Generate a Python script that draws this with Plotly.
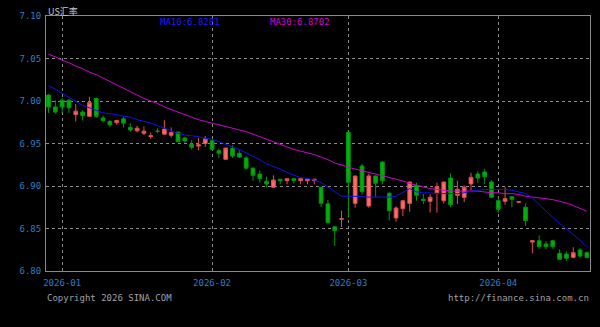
import pandas as pd
import plotly.graph_objects as go

# trading days (weekdays) shown on the chart
dates = [d.strftime("%Y-%m-%d") for d in pd.bdate_range("2025-12-30", periods=80)]

open_ = [7.007, 6.993, 7.001, 7.001, 6.984, 6.987, 6.982, 7.003, 6.980, 6.976,
         6.9745, 6.979, 6.969, 6.965, 6.962, 6.958, 6.9645, 6.961, 6.9597, 6.9635,
         6.9565, 6.949, 6.947, 6.950, 6.9533, 6.9415, 6.9314, 6.944, 6.9385, 6.933,
         6.921, 6.914, 6.9055, 6.8985, 6.908, 6.9063, 6.9086, 6.9063, 6.9063, 6.9063,
         6.8985, 6.879, 6.852, 6.8608, 6.9632, 6.8796, 6.9235, 6.8765, 6.9118, 6.9282,
         6.8914, 6.8624, 6.8733, 6.8796, 6.9008, 6.8844, 6.882, 6.8921, 6.8827, 6.9094,
         6.8891, 6.8867, 6.9024, 6.9141, 6.9165, 6.9047, 6.8827, 6.882, 6.8874, 6.881,
         6.875, 6.834, 6.8356, 6.8318, 6.8356, 6.8208, 6.820, 6.8161, 6.8247, 6.8215]
high = [7.008, 7.001, 7.003, 7.002, 6.9965, 6.989, 7.005, 7.004, 6.983, 6.9775,
        6.978, 6.9815, 6.974, 6.971, 6.970, 6.963, 6.968, 6.9775, 6.969, 6.9637,
        6.958, 6.954, 6.9565, 6.959, 6.955, 6.944, 6.9447, 6.948, 6.942, 6.935,
        6.922, 6.918, 6.911, 6.9125, 6.908, 6.9086, 6.9086, 6.9086, 6.908, 6.908,
        6.8985, 6.8835, 6.852, 6.871, 6.9632, 6.9118, 6.926, 6.914, 6.912, 6.929,
        6.8933, 6.876, 6.883, 6.905, 6.9039, 6.8906, 6.8902, 6.9039, 6.905, 6.915,
        6.9062, 6.9008, 6.9156, 6.9173, 6.9204, 6.907, 6.8867, 6.8985, 6.8874, 6.8816,
        6.8796, 6.8365, 6.842, 6.835, 6.8365, 6.8255, 6.823, 6.828, 6.827, 6.823]
low = [6.986, 6.985, 6.986, 6.986, 6.976, 6.977, 6.9815, 6.980, 6.9745, 6.969,
       6.972, 6.969, 6.9635, 6.963, 6.960, 6.9555, 6.962, 6.9605, 6.957, 6.952,
       6.951, 6.943, 6.942, 6.946, 6.942, 6.933, 6.931, 6.933, 6.933, 6.919,
       6.906, 6.904, 6.8985, 6.8985, 6.902, 6.902, 6.903, 6.902, 6.902, 6.902,
       6.875, 6.856, 6.8294, 6.852, 6.8627, 6.8745, 6.890, 6.8745, 6.8871, 6.902,
       6.8592, 6.858, 6.8647, 6.8698, 6.8827, 6.8788, 6.8686, 6.8686, 6.8796, 6.875,
       6.8788, 6.8812, 6.8945, 6.9032, 6.9024, 6.886, 6.8686, 6.878, 6.875, 6.8796,
       6.853, 6.8208, 6.8262, 6.8255, 6.8262, 6.813, 6.812, 6.815, 6.816, 6.815]
close = [6.993, 6.987, 6.993, 6.992, 6.988, 6.983, 6.998, 6.982, 6.977, 6.972,
         6.977, 6.974, 6.966, 6.968, 6.9645, 6.959, 6.9643, 6.967, 6.9628, 6.952,
         6.953, 6.9455, 6.9485, 6.9555, 6.943, 6.9385, 6.9447, 6.9353, 6.934, 6.921,
         6.9126, 6.9086, 6.9024, 6.907, 6.9063, 6.9086, 6.9063, 6.9086, 6.908, 6.908,
         6.8797, 6.857, 6.8475, 6.8615, 6.9044, 6.9118, 6.8933, 6.9118, 6.9032, 6.9062,
         6.8709, 6.8741, 6.8827, 6.9047, 6.8891, 6.883, 6.8867, 6.8992, 6.9047, 6.878,
         6.8961, 6.8985, 6.9102, 6.9094, 6.9109, 6.8867, 6.8726, 6.8851, 6.8844, 6.8816,
         6.8592, 6.8356, 6.8286, 6.8286, 6.8286, 6.8138, 6.815, 6.8215, 6.8176, 6.816]

ma10 = [7.018, 7.014, 7.009, 7.004, 6.999, 6.995, 6.992, 6.989, 6.986, 6.985,
        6.984, 6.982, 6.981, 6.978, 6.976, 6.974, 6.971, 6.968, 6.965, 6.962,
        6.960, 6.959, 6.958, 6.956, 6.955, 6.952, 6.949, 6.946, 6.943, 6.939,
        6.935, 6.931, 6.926, 6.923, 6.920, 6.916, 6.913, 6.910, 6.909, 6.907,
        6.904, 6.899, 6.894, 6.888, 6.888, 6.888, 6.8875, 6.887, 6.887, 6.887,
        6.887, 6.888, 6.893, 6.897, 6.893, 6.892, 6.892, 6.891, 6.891, 6.8906,
        6.891, 6.892, 6.894, 6.895, 6.896, 6.896, 6.896, 6.896, 6.895, 6.893,
        6.891, 6.886, 6.878, 6.870, 6.863, 6.856, 6.850, 6.843, 6.836, 6.8281]
ma30 = [7.055, 7.052, 7.048, 7.045, 7.041, 7.038, 7.034, 7.031, 7.027, 7.023,
        7.019, 7.015, 7.011, 7.007, 7.003, 7.000, 6.997, 6.993, 6.990, 6.987,
        6.984, 6.981, 6.978, 6.976, 6.974, 6.972, 6.970, 6.968, 6.966, 6.964,
        6.961, 6.958, 6.955, 6.952, 6.949, 6.946, 6.943, 6.941, 6.939, 6.937,
        6.934, 6.931, 6.927, 6.925, 6.922, 6.920, 6.918, 6.916, 6.914, 6.912,
        6.910, 6.908, 6.906, 6.903, 6.901, 6.899, 6.897, 6.896, 6.895, 6.894,
        6.894, 6.894, 6.894, 6.894, 6.893, 6.892, 6.892, 6.891, 6.891, 6.890,
        6.888, 6.887, 6.886, 6.8855, 6.884, 6.882, 6.880, 6.877, 6.874, 6.8702]

tick_dates = ["2026-01-01", "2026-02-02", "2026-03-02", "2026-04-01"]
tick_text = ["2026-01", "2026-02", "2026-03", "2026-04"]
y_ticks = [6.80, 6.85, 6.90, 6.95, 7.00, 7.05, 7.10]

title_text = "US汇率"
ma10_label = "MA10:6.8281"
ma30_label = "MA30:6.8702"
copyright_text = "Copyright 2026 SINA.COM"
url_text = "http://finance.sina.com.cn"

MONO = "DejaVu Sans Mono"
W, H = 600, 327
L, R, T, B = 46, 10, 16, 56
pw, ph = W - L - R, H - T - B


def px(x):
    return (x - L) / pw


def py(y):
    return (H - B - y) / ph


fig = go.Figure()
fig.add_trace(go.Candlestick(
    x=dates, open=open_, high=high, low=low, close=close,
    increasing=dict(line=dict(color="#e05050", width=1), fillcolor="#ff6a6a"),
    decreasing=dict(line=dict(color="#00960a", width=1), fillcolor="#00b00c"),
    whiskerwidth=0, showlegend=False, hoverinfo="skip",
))
fig.add_trace(go.Scatter(x=dates, y=ma30, mode="lines",
                         line=dict(color="#d000d0", width=1), showlegend=False, hoverinfo="skip"))
fig.add_trace(go.Scatter(x=dates, y=ma10, mode="lines",
                         line=dict(color="#1010f0", width=1), showlegend=False, hoverinfo="skip"))

n = len(dates)
fig.update_layout(
    width=W, height=H,
    margin=dict(l=L, r=R, t=T, b=B, pad=0),
    paper_bgcolor="black", plot_bgcolor="black",
    boxgap=0.22,
    font=dict(family=MONO, size=9, color="#2a7fc0"),
    xaxis=dict(
        type="category", range=[-0.37, n - 0.54],
        tickvals=tick_dates, ticktext=tick_text,
        showgrid=True, gridcolor="#8a8a8a", griddash="dot", gridwidth=1,
        showline=True, linecolor="#8a8a8a", linewidth=1, mirror=True,
        ticks="outside", ticklen=3, tickcolor="black",
        tickfont=dict(family=MONO, size=9, color="#2a7fc0"),
        rangeslider=dict(visible=False), zeroline=False,
    ),
    yaxis=dict(
        range=[6.80, 7.10], tickvals=y_ticks, tickformat=".2f",
        showgrid=True, gridcolor="#8a8a8a", griddash="dot", gridwidth=1,
        showline=True, linecolor="#8a8a8a", linewidth=1, mirror=True,
        ticks="outside", ticklen=2, tickcolor="black",
        tickfont=dict(family=MONO, size=9, color="#2a7fc0"),
        zeroline=False,
    ),
)

ann = [
    dict(text=title_text, x=px(46), y=py(11.5), xanchor="left", yanchor="middle",
         font=dict(family="Noto Sans CJK SC", size=9, color="#c8c8c8")),
    dict(text=ma10_label, x=px(158), y=py(21.5), xanchor="left", yanchor="middle",
         font=dict(family=MONO, size=9, color="#1a1aff")),
    dict(text=ma30_label, x=px(267.5), y=py(21.5), xanchor="left", yanchor="middle",
         font=dict(family=MONO, size=9, color="#d000d0")),
    dict(text=copyright_text, x=px(45), y=py(297.5), xanchor="left", yanchor="middle",
         font=dict(family=MONO, size=9, color="#a0a0a0")),
    dict(text=url_text, x=px(591), y=py(297.5), xanchor="right", yanchor="middle",
         font=dict(family=MONO, size=9, color="#a0a0a0")),
]
for a in ann:
    fig.add_annotation(xref="paper", yref="paper", showarrow=False, **a)

fig.write_html("out.html")
